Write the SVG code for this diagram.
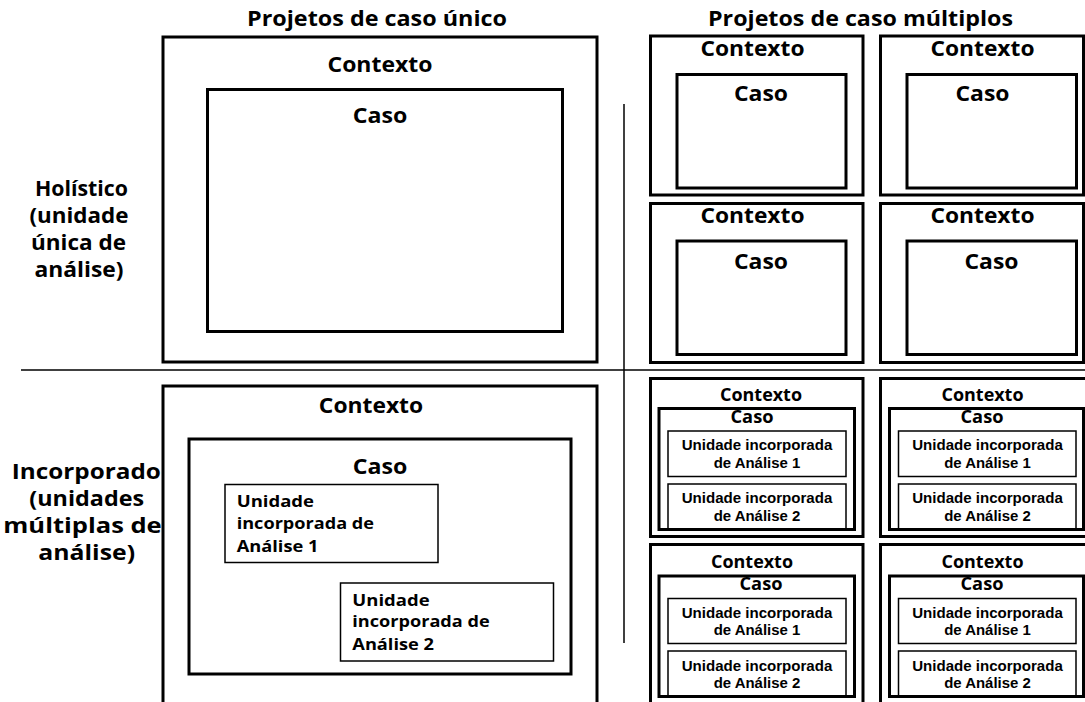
<svg xmlns="http://www.w3.org/2000/svg" width="1085" height="702" viewBox="0 0 1085 702">
<style>
text{font-family:"Open Sans","Liberation Sans",sans-serif;font-weight:bold;fill:#000}
.t{font-size:21.5px;text-anchor:middle}
.s{font-size:17px;text-anchor:middle}
.u{font-family:"Liberation Sans",Arial,sans-serif;font-size:15px;text-anchor:middle}
.l{font-size:16.5px}
.box{fill:#fff;stroke:#000;stroke-width:3}
.unit{fill:#fff;stroke:#000;stroke-width:1.5}
.open{fill:none;stroke:#000;stroke-width:1.5}
.div{stroke:#000;stroke-width:1.5;fill:none}
</style>
<rect width="1085" height="702" fill="#fff"/>

<g id="dividers">
<line class="div" x1="21" y1="370" x2="1085" y2="370"/>
<line class="div" x1="624" y1="104" x2="624" y2="643"/>
</g>

<g id="headers">
<text class="t" x="377" y="26" textLength="260" lengthAdjust="spacingAndGlyphs">Projetos de caso único</text>
<text class="t" x="860.5" y="26" textLength="305" lengthAdjust="spacingAndGlyphs">Projetos de caso múltiplos</text>
</g>

<g id="label-holistico">
<text class="t" x="81.5" y="196" textLength="93" lengthAdjust="spacingAndGlyphs">Holístico</text>
<text class="t" x="79" y="223.3" textLength="99" lengthAdjust="spacingAndGlyphs">(unidade</text>
<text class="t" x="78.5" y="250" textLength="95" lengthAdjust="spacingAndGlyphs">única de</text>
<text class="t" x="79" y="276.7" textLength="89" lengthAdjust="spacingAndGlyphs">análise)</text>
</g>

<g id="label-incorporado">
<text class="t" x="86.3" y="479" textLength="149" lengthAdjust="spacingAndGlyphs">Incorporado</text>
<text class="t" x="86.7" y="506" textLength="114.7" lengthAdjust="spacingAndGlyphs">(unidades</text>
<text class="t" x="82.5" y="532.7" textLength="158.4" lengthAdjust="spacingAndGlyphs">múltiplas de</text>
<text class="t" x="86.7" y="560" textLength="96.7" lengthAdjust="spacingAndGlyphs">análise)</text>
</g>

<g id="single-holistic">
<rect class="box" x="163" y="37" width="434" height="325"/>
<text class="t" x="380" y="71.7" textLength="105" lengthAdjust="spacingAndGlyphs">Contexto</text>
<rect class="box" x="207.5" y="89.5" width="355" height="242"/>
<text class="t" x="380" y="123.3" textLength="54.6" lengthAdjust="spacingAndGlyphs">Caso</text>
</g>

<g id="single-embedded">
<rect class="box" x="163" y="386" width="434" height="330"/>
<text class="t" x="371" y="412.7" textLength="104.3" lengthAdjust="spacingAndGlyphs">Contexto</text>
<rect class="box" x="189" y="439" width="382" height="235"/>
<text class="t" x="380" y="474" textLength="54.6" lengthAdjust="spacingAndGlyphs">Caso</text>
<rect class="unit" x="225" y="484.5" width="213" height="78"/>
<text class="l" x="236.7" y="507.3" textLength="77.3" lengthAdjust="spacingAndGlyphs">Unidade</text>
<text class="l" x="236.7" y="529" textLength="137.3" lengthAdjust="spacingAndGlyphs">incorporada de</text>
<text class="l" x="236.7" y="551.7" textLength="81.7" lengthAdjust="spacingAndGlyphs">Análise 1</text>
<rect class="unit" x="340.5" y="583" width="213" height="78"/>
<text class="l" x="352.3" y="605.7" textLength="77.3" lengthAdjust="spacingAndGlyphs">Unidade</text>
<text class="l" x="352.3" y="627.3" textLength="137.3" lengthAdjust="spacingAndGlyphs">incorporada de</text>
<text class="l" x="352.3" y="650" textLength="81.7" lengthAdjust="spacingAndGlyphs">Análise 2</text>
</g>

<g id="multi-holistic-1">
<rect class="box" x="650.5" y="36" width="212.5" height="159"/>
<text class="t" x="752.5" y="55.5" textLength="104" lengthAdjust="spacingAndGlyphs">Contexto</text>
<rect class="box" x="677" y="74.5" width="169" height="113.5"/>
<text class="t" x="761" y="101" textLength="54" lengthAdjust="spacingAndGlyphs">Caso</text>
</g>
<g id="multi-holistic-2">
<rect class="box" x="880.5" y="36" width="203" height="159"/>
<text class="t" x="982.5" y="55.5" textLength="104" lengthAdjust="spacingAndGlyphs">Contexto</text>
<rect class="box" x="907" y="74.5" width="169.5" height="113.5"/>
<text class="t" x="982.5" y="101" textLength="54" lengthAdjust="spacingAndGlyphs">Caso</text>
</g>
<g id="multi-holistic-3">
<rect class="box" x="650.5" y="203.5" width="212.5" height="159"/>
<text class="t" x="752.5" y="222.7" textLength="104" lengthAdjust="spacingAndGlyphs">Contexto</text>
<rect class="box" x="677" y="241" width="169" height="113.5"/>
<text class="t" x="761" y="269" textLength="54" lengthAdjust="spacingAndGlyphs">Caso</text>
</g>
<g id="multi-holistic-4">
<rect class="box" x="880.5" y="203.5" width="203" height="159"/>
<text class="t" x="982.5" y="222.7" textLength="104" lengthAdjust="spacingAndGlyphs">Contexto</text>
<rect class="box" x="907" y="241" width="169.5" height="113.5"/>
<text class="t" x="991.5" y="269" textLength="54" lengthAdjust="spacingAndGlyphs">Caso</text>
</g>

<g id="multi-embedded-1">
<rect class="box" x="650.5" y="378.5" width="212.5" height="158"/>
<text class="s" x="761" y="400.7" textLength="82" lengthAdjust="spacingAndGlyphs">Contexto</text>
<rect class="box" x="659" y="408.5" width="195.5" height="121"/>
<text class="s" x="752" y="422.7" textLength="43" lengthAdjust="spacingAndGlyphs">Caso</text>
<rect class="unit" x="668" y="431" width="178" height="45.5"/>
<text class="u" x="757" y="450" textLength="150.6" lengthAdjust="spacingAndGlyphs">Unidade incorporada</text>
<text class="u" x="757" y="467.7" textLength="86.7" lengthAdjust="spacingAndGlyphs">de Análise 1</text>
<path class="open" d="M668,528 V484 H846 V528"/>
<text class="u" x="757" y="503.3" textLength="150.6" lengthAdjust="spacingAndGlyphs">Unidade incorporada</text>
<text class="u" x="757" y="521" textLength="86.7" lengthAdjust="spacingAndGlyphs">de Análise 2</text>
</g>
<g id="multi-embedded-2">
<rect class="box" x="880.5" y="378.5" width="215" height="158"/>
<text class="s" x="982.5" y="400.7" textLength="82" lengthAdjust="spacingAndGlyphs">Contexto</text>
<rect class="box" x="889.5" y="408.5" width="194" height="121"/>
<text class="s" x="982" y="422.7" textLength="43" lengthAdjust="spacingAndGlyphs">Caso</text>
<rect class="unit" x="898.5" y="431" width="177.5" height="45.5"/>
<text class="u" x="987.5" y="450" textLength="150.6" lengthAdjust="spacingAndGlyphs">Unidade incorporada</text>
<text class="u" x="987.5" y="467.7" textLength="86.7" lengthAdjust="spacingAndGlyphs">de Análise 1</text>
<path class="open" d="M898.5,528 V484 H1076 V528"/>
<text class="u" x="987.5" y="503.3" textLength="150.6" lengthAdjust="spacingAndGlyphs">Unidade incorporada</text>
<text class="u" x="987.5" y="521" textLength="86.7" lengthAdjust="spacingAndGlyphs">de Análise 2</text>
</g>
<g id="multi-embedded-3">
<rect class="box" x="650.5" y="544.5" width="212.5" height="200"/>
<text class="s" x="752" y="567.7" textLength="82" lengthAdjust="spacingAndGlyphs">Contexto</text>
<rect class="box" x="659" y="576" width="195.5" height="120.5"/>
<text class="s" x="761" y="590" textLength="43" lengthAdjust="spacingAndGlyphs">Caso</text>
<rect class="unit" x="668" y="598.5" width="178" height="45"/>
<text class="u" x="757" y="617.7" textLength="150.6" lengthAdjust="spacingAndGlyphs">Unidade incorporada</text>
<text class="u" x="757" y="635" textLength="86.7" lengthAdjust="spacingAndGlyphs">de Análise 1</text>
<path class="open" d="M668,695 V651 H846 V695"/>
<text class="u" x="757" y="671" textLength="150.6" lengthAdjust="spacingAndGlyphs">Unidade incorporada</text>
<text class="u" x="757" y="688.3" textLength="86.7" lengthAdjust="spacingAndGlyphs">de Análise 2</text>
</g>
<g id="multi-embedded-4">
<rect class="box" x="880.5" y="544.5" width="215" height="200"/>
<text class="s" x="982.5" y="567.7" textLength="82" lengthAdjust="spacingAndGlyphs">Contexto</text>
<rect class="box" x="889.5" y="576" width="194" height="120.5"/>
<text class="s" x="982" y="590" textLength="43" lengthAdjust="spacingAndGlyphs">Caso</text>
<rect class="unit" x="898.5" y="598.5" width="177.5" height="45"/>
<text class="u" x="987.5" y="617.7" textLength="150.6" lengthAdjust="spacingAndGlyphs">Unidade incorporada</text>
<text class="u" x="987.5" y="635" textLength="86.7" lengthAdjust="spacingAndGlyphs">de Análise 1</text>
<path class="open" d="M898.5,695 V651 H1076 V695"/>
<text class="u" x="987.5" y="671" textLength="150.6" lengthAdjust="spacingAndGlyphs">Unidade incorporada</text>
<text class="u" x="987.5" y="688.3" textLength="86.7" lengthAdjust="spacingAndGlyphs">de Análise 2</text>
</g>
</svg>
